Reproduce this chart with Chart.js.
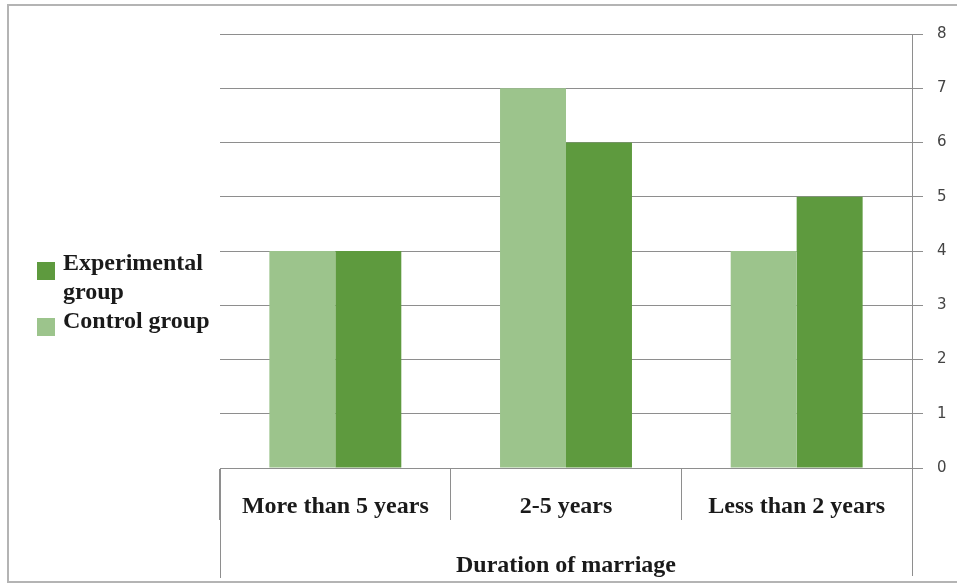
<!DOCTYPE html>
<html>
<head>
<meta charset="utf-8">
<script src="https://cdn.jsdelivr.net/npm/chart.js@4"></script>
<style>
  body { margin: 0; background: #fff; }
  #wrap { position: relative; width: 957px; height: 583px; overflow: hidden; }
  #frame { position: absolute; left: 7px; top: 4px; width: 960px; height: 575px; border: 2px solid #b4b4b4; }
  canvas { position: absolute; left: 0; top: 0; }
  .legend { position: absolute; left: 37px; top: 248px; font: bold 24px "Liberation Serif", serif; color: #1a1a1a; line-height: 29px; }
  .legend .item { position: relative; padding-left: 26px; width: 165px; }
  .legend .box { position: absolute; left: 0; top: 14px; width: 18px; height: 18px; }
</style>
</head>
<body>
<div id="wrap">
  <div id="frame"></div>
  <canvas id="marriage" width="957" height="583"></canvas>
  <div class="legend">
    <div class="item"><span class="box" style="background:#5e9a3e"></span>Experimental group</div>
    <div class="item"><span class="box" style="background:#9cc48c;top:12px"></span>Control group</div>
  </div>
</div>
<script>
let categories = ['More than 5 years', '2-5 years', 'Less than 2 years'];
let controlGroup = [4, 7, 4];
let experimentalGroup = [4, 6, 5];
let yTicks = [0, 1, 2, 3, 4, 5, 6, 7, 8];

let gridColor = '#8e8e8e';
let serifBold = { family: 'Liberation Serif', weight: 'bold', size: 24 };

// left and right edges of the category box run down past the title
let boxEdges = {
    id: 'boxEdges',
    afterDraw(chart) {
        let ctx = chart.ctx;
        let area = chart.chartArea;
        ctx.save();
        ctx.strokeStyle = gridColor;
        ctx.lineWidth = 1;
        ctx.beginPath();
        ctx.moveTo(Math.round(area.left) + 0.5, area.bottom);
        ctx.lineTo(Math.round(area.left) + 0.5, 578);
        ctx.moveTo(Math.round(area.right) + 0.5, area.bottom);
        ctx.lineTo(Math.round(area.right) + 0.5, 576);
        ctx.stroke();
        ctx.restore();
    }
};

let marriageData = {
    labels: categories,
    datasets: [{
        label: 'Control group',
        backgroundColor: '#9cc48c',
        data: controlGroup
    }, {
        label: 'Experimental group',
        backgroundColor: '#5e9a3e',
        data: experimentalGroup
    }]
};

var ctxMarriage = document.getElementById('marriage').getContext('2d');
var marriageChart = new Chart(ctxMarriage, {
    type: 'bar',
    data: marriageData,
    plugins: [boxEdges],
    options: {
        responsive: false,
        animation: false,
        layout: {
            padding: { left: 220, top: 34, right: 0, bottom: 3 }
        },
        datasets: {
            bar: { categoryPercentage: 0.572, barPercentage: 1.0 }
        },
        scales: {
            x: {
                position: 'bottom',
                afterFit(scale) { scale.height = 112; },
                grid: { offset: true, drawOnChartArea: false, tickLength: 52, color: gridColor },
                border: { display: true, color: gridColor },
                ticks: { font: serifBold, color: '#1a1a1a', padding: -28 },
                title: {
                    display: true,
                    text: 'Duration of marriage',
                    font: serifBold,
                    color: '#1a1a1a',
                    padding: { top: 0, bottom: 0 }
                }
            },
            y: {
                position: 'right',
                min: 0,
                max: 8,
                afterFit(scale) { scale.width = 45; },
                afterBuildTicks(scale) { scale.ticks = yTicks.map(v => ({ value: v })); },
                grid: { color: gridColor, tickLength: 11 },
                border: { display: true, color: gridColor },
                ticks: {
                    font: { family: 'DejaVu Sans', size: 15 },
                    color: '#444444',
                    padding: 14
                }
            }
        },
        plugins: {
            legend: { display: false },
            tooltip: { enabled: false }
        }
    }
});
</script>
</body>
</html>
